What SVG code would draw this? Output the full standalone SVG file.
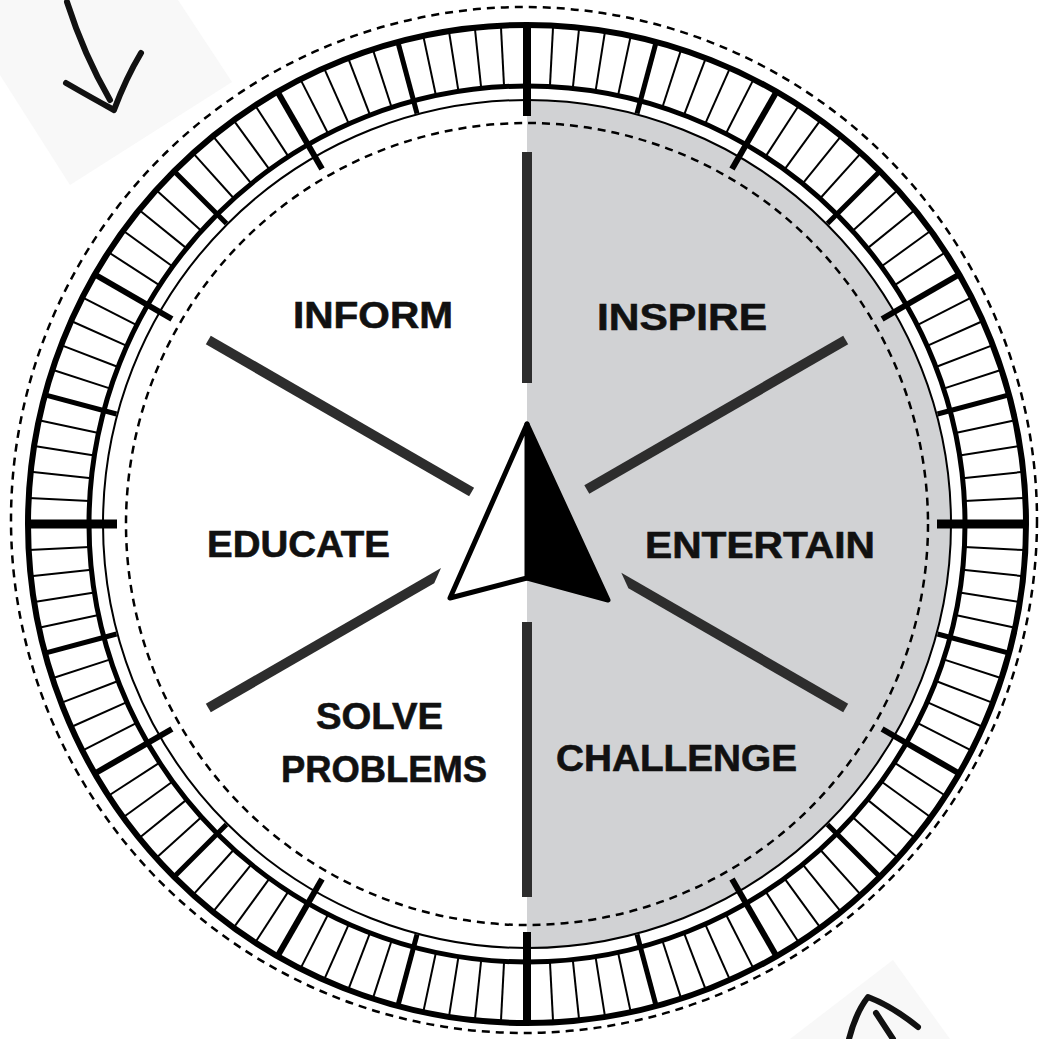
<svg xmlns="http://www.w3.org/2000/svg" xmlns:xlink="http://www.w3.org/1999/xlink" width="1040" height="1039" viewBox="0 0 1040 1039">
<style>
.lbl{font-family:"Liberation Sans","Noto Sans",Arial,sans-serif;font-weight:700;font-size:37px;fill:#111;stroke:#111;stroke-width:0.6;text-anchor:middle}
.dash{fill:none;stroke:#000;stroke-width:2.5;stroke-dasharray:8 6}
.ring{fill:none;stroke:#000}
.tk{stroke:#000}
.spoke{stroke:#2d2d2d;stroke-width:10;fill:none}
.spk{fill:#2d2d2d}
.hand{fill:none;stroke:#111;stroke-width:6;stroke-linecap:round;stroke-linejoin:round}
</style>
<defs>
<line id="tm" class="tk" x1="527" y1="25" x2="527" y2="86" stroke-width="2"/>
<line id="t15" class="tk" x1="527" y1="25" x2="527" y2="99" stroke-width="5"/>
<line id="t30" class="tk" x1="527" y1="25" x2="527" y2="114" stroke-width="6"/>
<g id="t5">
<use href="#tm"/>
<use href="#tm" transform="rotate(3 527 524)"/>
<use href="#tm" transform="rotate(6 527 524)"/>
<use href="#tm" transform="rotate(9 527 524)"/>
<use href="#tm" transform="rotate(12 527 524)"/>
</g>
<g id="t30p">
<use href="#t5"/>
<use href="#t5" transform="rotate(15 527 524)"/>
<use href="#t30"/>
<use href="#t15" transform="rotate(15 527 524)"/>
</g>
</defs>
<rect width="1040" height="1039" fill="#fff"/>
<g id="corner-top-left">
<polygon points="0,75 70,185 232,82 178,0 0,0" fill="#f8f8f8"/>
<path class="hand" d="M67,2 Q84,55 110,100"/>
<path class="hand" d="M66,83 Q92,98 114,110 Q126,78 141,53"/>
</g>
<g id="corner-bottom-right">
<polygon points="893,960 790,1039 950,1039" fill="#f8f8f8"/>
<path class="hand" d="M849,1039 Q856,1012 868,997 Q892,1006 918,1027"/>
<path class="hand" d="M876,1013 L893,1039"/>
</g>
<g id="dial">
<path d="M527,100 A424,424 0 0 1 527,948 Z" fill="#d1d2d4"/>
<circle class="dash" cx="524" cy="520" r="513"/>
<circle class="dash" cx="527" cy="524" r="401"/>
<circle class="ring" cx="527" cy="524" r="424" stroke-width="2"/>
<circle class="ring" cx="527" cy="524" r="438" stroke-width="5"/>
<circle class="ring" cx="527" cy="524" r="499" stroke-width="6"/>
<g id="ticks">
<use href="#t30p"/>
<use href="#t30p" transform="rotate(30 527 524)"/>
<use href="#t30p" transform="rotate(60 527 524)"/>
<use href="#t30p" transform="rotate(90 527 524)"/>
<use href="#t30p" transform="rotate(120 527 524)"/>
<use href="#t30p" transform="rotate(150 527 524)"/>
<use href="#t30p" transform="rotate(180 527 524)"/>
<use href="#t30p" transform="rotate(210 527 524)"/>
<use href="#t30p" transform="rotate(240 527 524)"/>
<use href="#t30p" transform="rotate(270 527 524)"/>
<use href="#t30p" transform="rotate(300 527 524)"/>
<use href="#t30p" transform="rotate(330 527 524)"/>
<line class="tk" stroke-width="8" x1="527" y1="24" x2="527" y2="116"/>
<line class="tk" stroke-width="8" x1="527" y1="932" x2="527" y2="1024"/>
<line class="tk" stroke-width="9" x1="27" y1="524" x2="117" y2="524"/>
<line class="tk" stroke-width="9" x1="937" y1="524" x2="1027" y2="524"/>
</g>
</g>
<g id="connectors">
<line class="spoke" x1="527" y1="152" x2="527" y2="383"/>
<line class="spoke" x1="527" y1="622" x2="527" y2="897"/>
<line class="spoke" x1="471.6" y1="492" x2="208.3" y2="340"/>
<line class="spoke" x1="586.8" y1="489.5" x2="845.7" y2="340"/>
<polygon class="spk" points="441,568 205.8,703.7 210.8,712.3 434.2,583.3"/>
<polygon class="spk" points="621.3,572.7 848.2,703.7 843.2,712.3 628.4,588.3"/>
</g>
<g id="needle">
<polygon points="527,424 608,600 527,578" fill="#000" stroke="#000" stroke-width="5" stroke-linejoin="round"/>
<polygon points="527,424 450,598 527,578" fill="#fff" stroke="#000" stroke-width="5" stroke-linejoin="round"/>
</g>
<g id="node-inform"><text class="lbl" x="373" y="328" textLength="160" lengthAdjust="spacingAndGlyphs">INFORM</text></g>
<g id="node-inspire"><text class="lbl" x="682" y="330" textLength="170" lengthAdjust="spacingAndGlyphs">INSPIRE</text></g>
<g id="node-educate"><text class="lbl" x="298.5" y="557" textLength="183" lengthAdjust="spacingAndGlyphs">EDUCATE</text></g>
<g id="node-entertain"><text class="lbl" x="760" y="558" textLength="230" lengthAdjust="spacingAndGlyphs">ENTERTAIN</text></g>
<g id="node-solve-problems">
<text class="lbl" x="379.5" y="729" textLength="127" lengthAdjust="spacingAndGlyphs">SOLVE</text>
<text class="lbl" x="384" y="782" textLength="206" lengthAdjust="spacingAndGlyphs">PROBLEMS</text>
</g>
<g id="node-challenge"><text class="lbl" x="676.5" y="771" textLength="241" lengthAdjust="spacingAndGlyphs">CHALLENGE</text></g>
</svg>
